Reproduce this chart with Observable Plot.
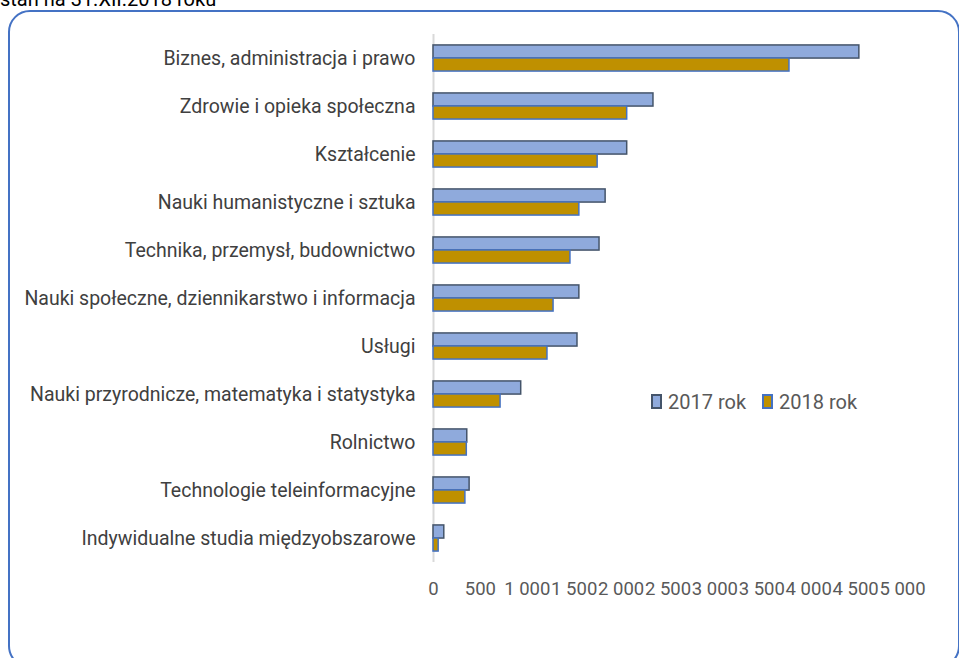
<!DOCTYPE html>
<html><head><meta charset="utf-8">
<script src="https://cdn.jsdelivr.net/npm/d3@7"></script>
<script src="https://cdn.jsdelivr.net/npm/@observablehq/plot@0.6"></script>
<style>
body{margin:0;background:#fff;width:959px;height:658px;overflow:hidden;position:relative;font-family:Roboto,"Liberation Sans",sans-serif;}
#title{position:absolute;left:0;top:-13px;font-size:20px;color:#000;white-space:nowrap;}
#box{position:absolute;left:8px;top:10px;width:948px;height:654px;border:2px solid #4472C4;border-radius:22px;}
#chart{position:absolute;left:0;top:0;}
#legend{position:absolute;left:651px;top:390px;font-size:20px;color:#595959;display:flex;gap:16px;align-items:center;}
#legend span.sw{display:inline-block;width:7px;height:11px;margin-right:6px;vertical-align:0px;}
</style></head>
<body>
<div id="title">stan na 31.XII.2018 roku</div>
<div id="box"></div>
<div id="chart"></div>
<div id="legend"></div>
<script>
const categories = [
  "Biznes, administracja i prawo",
  "Zdrowie i opieka społeczna",
  "Kształcenie",
  "Nauki humanistyczne i sztuka",
  "Technika, przemysł, budownictwo",
  "Nauki społeczne, dziennikarstwo i informacja",
  "Usługi",
  "Nauki przyrodnicze, matematyka i statystyka",
  "Rolnictwo",
  "Technologie teleinformacyjne",
  "Indywidualne studia międzyobszarowe"
];
const values2017 = [4540, 2345, 2065, 1835, 1770, 1555, 1535, 935, 360, 385, 115];
const values2018 = [3795, 2065, 1750, 1555, 1460, 1280, 1215, 715, 355, 340, 55];
const seriesNames = ["2017 rok", "2018 rok"];
const xTicks = [0, 500, 1000, 1500, 2000, 2500, 3000, 3500, 4000, 4500, 5000];
const fills = ["#8FAADC", "#BF9000"];
const strokes = ["#44546A", "#4472C4"];

const d17 = categories.map((c, i) => ({category: c, value: values2017[i]}));
const d18 = categories.map((c, i) => ({category: c, value: values2018[i]}));
const fmt = v => v >= 1000 ? d3.format(",")(v).replace(",", " ") : String(v);

const plot = Plot.plot({
  width: 959,
  height: 658,
  marginLeft: 433,
  marginRight: 57,
  marginTop: 34,
  marginBottom: 96,
  style: {fontFamily: "Roboto, 'Liberation Sans', sans-serif", background: "transparent"},
  x: {domain: [0, 5000], ticks: xTicks, tickFormat: fmt},
  y: {domain: categories, paddingInner: 0.456, paddingOuter: 0.228, round: false},
  marks: [
    Plot.ruleX([0], {stroke: "#D9D9D9", strokeWidth: 2}),
    Plot.barX(d17, {x: "value", y: "category", fill: fills[0], stroke: strokes[0], strokeWidth: 1.5, insetBottom: 13}),
    Plot.barX(d18, {x: "value", y: "category", fill: fills[1], stroke: strokes[1], strokeWidth: 1.5, insetTop: 13}),
    Plot.axisX({ticks: xTicks, tickFormat: fmt, tickSize: 0, tickPadding: 19, fontSize: 18.5, color: "#595959", label: null}),
    Plot.axisY({tickSize: 0, tickPadding: 18, fontSize: 19.5, color: "#404040", label: null})
  ]
});
document.getElementById("chart").appendChild(plot);

const legend = document.getElementById("legend");
seriesNames.forEach((name, i) => {
  const item = document.createElement("div");
  item.innerHTML = `<span class="sw" style="background:${fills[i]};border:2px solid ${strokes[i]}"></span>${name}`;
  legend.appendChild(item);
});
</script>
</body></html>
